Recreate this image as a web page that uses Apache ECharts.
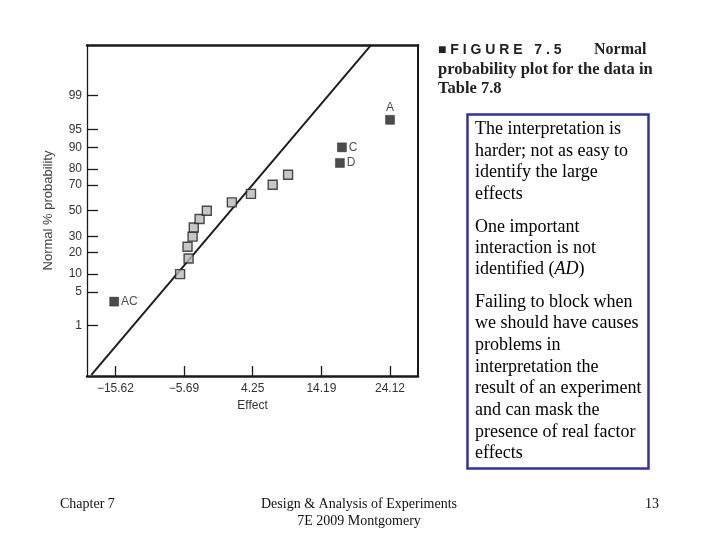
<!DOCTYPE html>
<html>
<head>
<meta charset="utf-8">
<script src="https://cdn.jsdelivr.net/npm/echarts@6/dist/echarts.min.js"></script>
<style>
html,body{margin:0;padding:0;background:#fff;}
#chart{width:720px;height:540px;}
</style>
</head>
<body>
<div id="chart"></div>
<script>
// ---- data ----
const effects = [-15.8, -6.26, -5.03, -5.18, -4.45, -4.28, -3.44, -2.39, 1.23, 4.0, 7.14, 9.37, 16.87, 17.16, 24.12];
const probs   = [3.3, 10, 16.7, 23.3, 30, 36.7, 43.3, 50, 56.7, 63.3, 70, 76.7, 83.3, 90, 96.7];
const pointLabels = ['AC', '', '', '', '', '', '', '', '', '', '', '', 'D', 'C', 'A'];
const xTicks = [-15.62, -5.69, 4.25, 14.19, 24.12];
const yTicks = [1, 5, 10, 20, 30, 50, 70, 80, 90, 95, 99];
const fitEffect = [-19.1, 21.4];
const fitProb = [0.045, 99.96];

// inverse normal CDF (probability-paper scale)
function probit(pct) {
  const p = pct / 100;
  const a = [-3.969683028665376e+01, 2.209460984245205e+02, -2.759285104469687e+02, 1.383577518672690e+02, -3.066479806614716e+01, 2.506628277459239e+00];
  const b = [-5.447609879822406e+01, 1.615858368580409e+02, -1.556989798598866e+02, 6.680131188771972e+01, -1.328068155288572e+01];
  const c = [-7.784894002430293e-03, -3.223964580411365e-01, -2.400758277161838e+00, -2.549732539343734e+00, 4.374664141464968e+00, 2.938163982698783e+00];
  const d = [7.784695709041462e-03, 3.224671290700398e-01, 2.445134137142996e+00, 3.754408661907416e+00];
  const pl = 0.02425, ph = 1 - pl;
  let q, r;
  if (p < pl) {
    q = Math.sqrt(-2 * Math.log(p));
    return (((((c[0]*q+c[1])*q+c[2])*q+c[3])*q+c[4])*q+c[5]) / ((((d[0]*q+d[1])*q+d[2])*q+d[3])*q+1);
  } else if (p <= ph) {
    q = p - 0.5; r = q * q;
    return (((((a[0]*r+a[1])*r+a[2])*r+a[3])*r+a[4])*r+a[5])*q / (((((b[0]*r+b[1])*r+b[2])*r+b[3])*r+b[4])*r+1);
  } else {
    q = Math.sqrt(-2 * Math.log(1 - p));
    return -(((((c[0]*q+c[1])*q+c[2])*q+c[3])*q+c[4])*q+c[5]) / ((((d[0]*q+d[1])*q+d[2])*q+d[3])*q+1);
  }
}

const yTickZ = yTicks.map(probit);
function yLabel(v) {
  let best = 0, bd = Infinity;
  yTickZ.forEach((z, i) => { const dd = Math.abs(z - v); if (dd < bd) { bd = dd; best = i; } });
  return String(yTicks[best]);
}
function xLabel(v) {
  let best = 0, bd = Infinity;
  xTicks.forEach((t, i) => { const dd = Math.abs(t - v); if (dd < bd) { bd = dd; best = i; } });
  const t = xTicks[best];
  return (t < 0 ? '\u2212' : '') + Math.abs(t).toFixed(2);
}

const sans = 'Liberation Sans, Arial, sans-serif';
const serif = 'Liberation Serif, Times New Roman, serif';

const pts = effects.map((e, i) => {
  const black = pointLabels[i] !== '';
  const item = {
    value: [e, probit(probs[i])],
    symbolSize: 9,
    itemStyle: black ? { color: '#1e1e1e', borderColor: '#1e1e1e', borderWidth: 0.5 }
                     : { color: '#b9b9b9', borderColor: '#222', borderWidth: 1.4 }
  };
  if (black) {
    const lab = pointLabels[i];
    item.label = {
      show: true, formatter: lab,
      position: lab === 'A' ? 'top' : 'right',
      distance: lab === 'A' ? 1 : 2,
      color: '#222', fontFamily: sans, fontSize: 12
    };
  }
  return item;
});

const fitLine = fitEffect.map((e, i) => [e, probit(fitProb[i])]);

const rightLines = [
  ['The interpretation is', 129],
  ['harder; not as easy to', 151],
  ['identify the large', 172],
  ['effects', 194],
  ['One important', 227],
  ['interaction is not', 248],
  ['{n|identified (}{i|AD}{n|)}', 269],
  ['Failing to block when', 302],
  ['we should have causes', 323],
  ['problems in', 345],
  ['interpretation the', 367],
  ['result of an experiment', 388],
  ['and can mask the', 410],
  ['presence of real factor', 432],
  ['effects', 453]
];

const graphics = [
  { type: 'rect', shape: { x: 467.5, y: 114.5, width: 181, height: 354 },
    style: { fill: '#fff', stroke: '#33339a', lineWidth: 2.5 } },
  { type: 'text', style: { text: '\u25A0 F I G U R E   7 . 5', x: 438, y: 50, font: 'bold 14px ' + sans, fill: '#222', textVerticalAlign: 'middle' } },
  { type: 'text', style: { text: 'Normal', x: 594, y: 50, font: 'bold 16px ' + serif, fill: '#222', textVerticalAlign: 'middle' } },
  { type: 'text', style: { text: 'probability plot for the data in', x: 438, y: 70, font: 'bold 16.5px ' + serif, fill: '#222', textVerticalAlign: 'middle' } },
  { type: 'text', style: { text: 'Table 7.8', x: 438, y: 89, font: 'bold 16.5px ' + serif, fill: '#222', textVerticalAlign: 'middle' } },
  { type: 'text', style: { text: 'Chapter 7', x: 60, y: 504, font: '14px ' + serif, fill: '#111', textVerticalAlign: 'middle' } },
  { type: 'text', style: { text: 'Design & Analysis of Experiments', x: 359, y: 504, font: '14px ' + serif, fill: '#111', textAlign: 'center', textVerticalAlign: 'middle' } },
  { type: 'text', style: { text: '7E 2009 Montgomery', x: 359, y: 521, font: '14px ' + serif, fill: '#111', textAlign: 'center', textVerticalAlign: 'middle' } },
  { type: 'text', style: { text: '13', x: 659, y: 504, font: '14px ' + serif, fill: '#111', textAlign: 'right', textVerticalAlign: 'middle' } }
];
rightLines.forEach(([t, y]) => {
  graphics.push({ type: 'text', style: {
    text: t, x: 475, y: y, font: '18px ' + serif, fill: '#000', textVerticalAlign: 'middle',
    rich: { n: { fontFamily: serif, fontSize: 18, fill: '#000' }, i: { fontFamily: serif, fontSize: 18, fontStyle: 'italic', fill: '#000' } }
  } });
});

const chart = echarts.init(document.getElementById('chart'), null, { renderer: 'canvas' });
const xMin = -19.73, xMax = 28.17, yMin = -3.343, yMax = 3.352;
chart.setOption({
  backgroundColor: '#fff',
  animation: false,
  grid: { left: 87, top: 45, width: 331, height: 331, show: false },
  xAxis: [{
    type: 'value', min: xMin, max: xMax, position: 'bottom',
    axisLine: { show: true, onZero: false, lineStyle: { color: '#1a1a1a', width: 2.5 } },
    axisTick: { show: true, inside: true, length: 10, customValues: xTicks, lineStyle: { color: '#1a1a1a', width: 1.3 } },
    axisLabel: { show: true, customValues: xTicks, formatter: xLabel, margin: 7, color: '#333', fontFamily: sans, fontSize: 12 },
    splitLine: { show: false },
    name: 'Effect', nameLocation: 'middle', nameGap: 23,
    nameTextStyle: { color: '#333', fontFamily: sans, fontSize: 12 }
  }, {
    type: 'value', min: xMin, max: xMax, position: 'top',
    axisLine: { show: true, onZero: false, lineStyle: { color: '#1a1a1a', width: 2.5 } },
    axisTick: { show: false }, axisLabel: { show: false }, splitLine: { show: false }
  }],
  yAxis: [{
    type: 'value', min: yMin, max: yMax, position: 'left',
    axisLine: { show: true, onZero: false, lineStyle: { color: '#1a1a1a', width: 1.3 } },
    axisTick: { show: true, inside: true, length: 11, customValues: yTickZ, lineStyle: { color: '#1a1a1a', width: 1.3 } },
    axisLabel: { show: true, customValues: yTickZ, formatter: yLabel, margin: 5, color: '#333', fontFamily: sans, fontSize: 12 },
    splitLine: { show: false },
    name: 'Normal % probability', nameLocation: 'middle', nameGap: 32, nameRotate: 90,
    nameTextStyle: { color: '#444', fontFamily: sans, fontSize: 13 }
  }, {
    type: 'value', min: yMin, max: yMax, position: 'right',
    axisLine: { show: true, onZero: false, lineStyle: { color: '#1a1a1a', width: 2 } },
    axisTick: { show: false }, axisLabel: { show: false }, splitLine: { show: false }
  }],
  series: [{
    type: 'line', data: fitLine, symbol: 'none', clip: true,
    lineStyle: { color: '#1e1e1e', width: 2 }, z: 2, silent: true
  }, {
    type: 'scatter', data: pts, symbol: 'rect', z: 3, silent: true
  }],
  graphic: graphics
});
</script>
</body>
</html>
